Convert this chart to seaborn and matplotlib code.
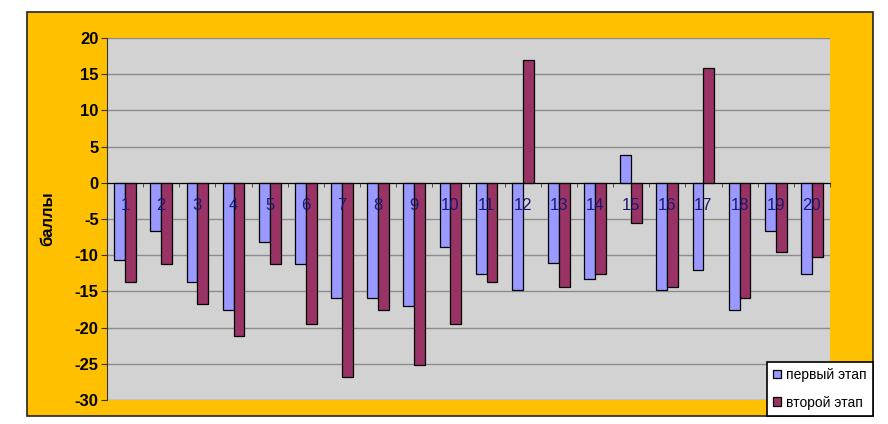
import matplotlib
matplotlib.use("Agg")
import matplotlib.pyplot as plt
from matplotlib.patches import Rectangle
from matplotlib.ticker import MultipleLocator
import seaborn as sns
import pandas as pd
import numpy as np

# data
participants = [str(i) for i in range(1, 21)]
stage_names = ["первый этап", "второй этап"]
first_stage = [-10.7, -6.7, -13.7, -17.6, -8.2, -11.2, -15.9, -15.9, -17.0, -8.8,
               -12.6, -14.8, -11.1, -13.3, 3.9, -14.8, -12.0, -17.6, -6.6, -12.6]
second_stage = [-13.7, -11.2, -16.8, -21.1, -11.2, -19.5, -26.8, -17.6, -25.1, -19.5,
                -13.7, 17.0, -14.4, -12.6, -5.6, -14.4, 15.9, -15.9, -9.6, -10.3]
y_ticks = list(range(-30, 21, 5))

df = pd.DataFrame({
    "participant": participants * 2,
    "stage": [stage_names[0]] * 20 + [stage_names[1]] * 20,
    "score": first_stage + second_stage,
})

plt.rcParams["font.family"] = ["Liberation Sans", "DejaVu Sans"]
plt.rcParams["axes.unicode_minus"] = False

W, H = 888, 424
fig = plt.figure(figsize=(W / 100, H / 100), dpi=100)
fig.patch.set_facecolor("white")

# yellow frame behind the axes
frame = Rectangle((27 / W, 8 / H), 846 / W, 404 / H, transform=fig.transFigure,
                  facecolor="#FFC000", edgecolor="#222222", linewidth=1.2, zorder=-5)
fig.patches.append(frame)

ax = fig.add_axes([107 / W, 24 / H, 723 / W, 362 / H])
ax.set_zorder(1)
ax.set_facecolor("#D2D2D2")

sns.barplot(data=df, x="participant", y="score", hue="stage",
            palette=["#9999FF", "#993366"], width=0.6, edgecolor="black",
            linewidth=0.9, saturation=1, ax=ax, zorder=3)

ax.set_ylim(-30, 20)
ax.set_xlim(-0.5, 19.5)
ax.set_yticks(y_ticks)
ax.yaxis.grid(True, color="#8C8C8C", linewidth=1.0)
ax.set_axisbelow(True)
ax.xaxis.set_zorder(5)  # category numbers sit on top of the bars

for s in ["top", "right"]:
    ax.spines[s].set_visible(False)
ax.spines["left"].set_color("#333333")
ax.spines["bottom"].set_position(("data", 0))
ax.spines["bottom"].set_color("black")
ax.spines["bottom"].set_zorder(4)

ax.tick_params(axis="y", labelsize=12, length=4, color="#333333", pad=2)
for t in ax.get_yticklabels():
    t.set_fontweight("bold")

ax.tick_params(axis="x", which="major", length=0, pad=11, labelsize=12, labelcolor="#1A1A6E")
ax.xaxis.set_minor_locator(MultipleLocator(1, offset=0.5))
ax.tick_params(axis="x", which="minor", length=3, color="#333333")

ax.set_xlabel("")
ax.set_ylabel("баллы", fontsize=12, fontweight="bold", labelpad=14)

leg = ax.legend(loc="lower right", bbox_to_anchor=(873 / W, 8 / H), bbox_transform=fig.transFigure,
                borderaxespad=0, frameon=True, fancybox=False, framealpha=1, edgecolor="black",
                fontsize=10, handlelength=0.6, handleheight=0.6, handletextpad=0.35,
                borderpad=0.45, labelspacing=1.0)
leg.get_frame().set_linewidth(1.2)
leg.set_zorder(10)

fig.savefig("out.png", dpi=100)
